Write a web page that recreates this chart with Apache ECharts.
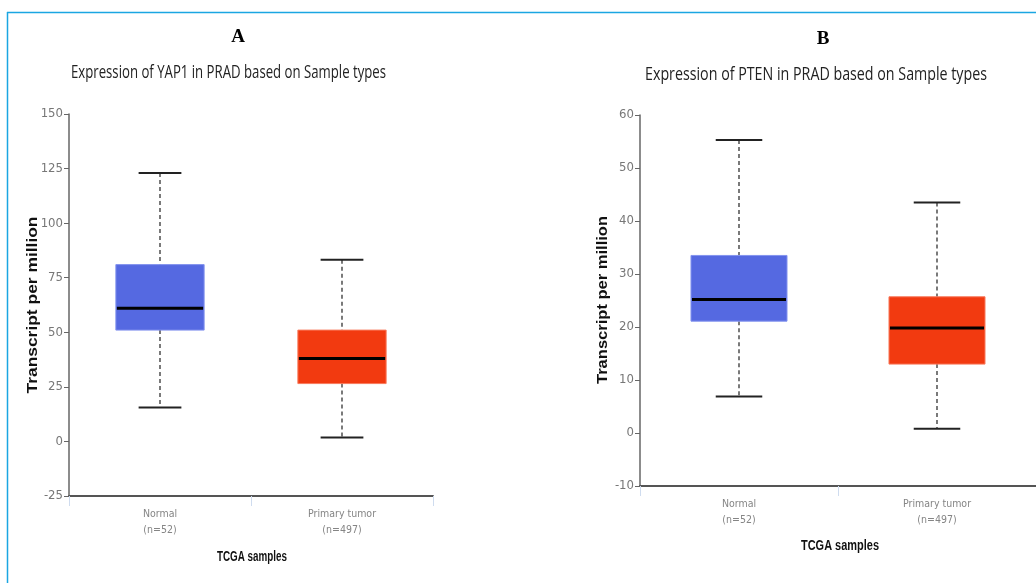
<!DOCTYPE html>
<html><head><meta charset="utf-8">
<script src="https://cdn.jsdelivr.net/npm/echarts@6/dist/echarts.min.js"></script>
<style>html,body{margin:0;padding:0;background:#fff}#c{width:1036px;height:583px}</style>
</head><body><div id="c"></div>
<script>
// ---- data ----
const categories = ['Normal\n(n=52)', 'Primary tumor\n(n=497)'];
// [low whisker, Q1, median, Q3, high whisker]
const yap1Normal = [15.6, 51, 61, 81, 123];
const yap1Tumor  = [1.8, 26.5, 38, 51, 83.2];
const ptenNormal = [6.9, 21.1, 25.2, 33.5, 55.3];
const ptenTumor  = [0.8, 13, 19.8, 25.7, 43.5];
const yap1Ticks = {min: -25, max: 150, interval: 25};
const ptenTicks = {min: -10, max: 60, interval: 10};
const panelTitles = ['Expression of YAP1 in PRAD based on Sample types', 'Expression of PTEN in PRAD based on Sample types'];
const panelLetters = ['A', 'B'];
const yName = 'Transcript per million';
const xName = 'TCGA samples';
const boxColors = ['#5569e1', '#f23a10'];
const boxStroke = ['#8393ee', '#f87a5c'];

const narrow = "'Liberation Sans Narrow','DejaVu Sans Condensed',sans-serif";

const mctx = document.createElement('canvas').getContext('2d');
function textW(text, font) { mctx.font = font; return mctx.measureText(text).width; }

function renderBox(params, api) {
  const ci = api.value(0);
  const low = api.value(1), q1 = api.value(2), med = api.value(3), q3 = api.value(4), high = api.value(5);
  const band = api.size([1, 0])[0];
  const bw = band * 0.485, cw = band * 0.235;
  const pLow = api.coord([ci, low]), pQ1 = api.coord([ci, q1]), pMed = api.coord([ci, med]),
        pQ3 = api.coord([ci, q3]), pHigh = api.coord([ci, high]);
  const x = pMed[0];
  const wStyle = {stroke: '#333', lineWidth: 1.3, lineDash: [4, 3]};
  const cStyle = {stroke: '#222', lineWidth: 2};
  return {
    type: 'group',
    children: [
      {type: 'line', shape: {x1: x, y1: pHigh[1], x2: x, y2: pQ3[1]}, style: wStyle},
      {type: 'line', shape: {x1: x, y1: pQ1[1], x2: x, y2: pLow[1]}, style: wStyle},
      {type: 'line', shape: {x1: x - cw / 2, y1: pHigh[1], x2: x + cw / 2, y2: pHigh[1]}, style: cStyle},
      {type: 'line', shape: {x1: x - cw / 2, y1: pLow[1], x2: x + cw / 2, y2: pLow[1]}, style: cStyle},
      {type: 'rect', shape: {x: x - bw / 2, y: pQ3[1], width: bw, height: pQ1[1] - pQ3[1]},
        style: {fill: boxColors[ci], stroke: boxStroke[ci], lineWidth: 1}},
      {type: 'line', shape: {x1: x - bw / 2 + 1, y1: pMed[1], x2: x + bw / 2 - 1, y2: pMed[1]},
        style: {stroke: '#000', lineWidth: 3}}
    ]
  };
}

function toRows(a, b) {
  return [[0].concat(a), [1].concat(b)];
}

function xAxisDef(gi) {
  return {
    type: 'category', gridIndex: gi, data: categories,
    axisLine: {onZero: false, lineStyle: {color: '#555', width: 2}},
    axisTick: {show: true, length: 10, lineStyle: {color: '#cfdcef', width: 1}},
    axisLabel: {color: '#858585', fontFamily: narrow, fontSize: 10.5, lineHeight: 16, margin: 10}
  };
}
function yAxisDef(gi, t) {
  return {
    type: 'value', gridIndex: gi, min: t.min, max: t.max, interval: t.interval,
    splitLine: {show: false},
    axisLine: {show: true, lineStyle: {color: '#666', width: 1.5}},
    axisTick: {show: true, length: 5, lineStyle: {color: '#666'}},
    axisLabel: {color: '#777', fontFamily: narrow, fontSize: 13, margin: 6}
  };
}

// stretched text (reference fonts are condensed / stretched)
function fitText(text, font, cx, cy, targetW, rotate, color) {
  const w = textW(text, font);
  return {
    type: 'text', x: cx, y: cy, rotation: rotate || 0, scaleX: targetW / w,
    style: {text: text, font: font, fill: color || '#111', textAlign: 'center', textVerticalAlign: 'middle'}
  };
}

const titleFont = "18.5px 'Open Sans',sans-serif";
const boldFont = "bold 14.5px 'Liberation Sans',Arial,sans-serif";
const nameFont = "bold 14px 'Liberation Sans',Arial,sans-serif";

const chart = echarts.init(document.getElementById('c'), null, {renderer: 'canvas'});
chart.setOption({
  animation: false,
  backgroundColor: '#fff',
  grid: [
    {left: 69, top: 114, width: 364, height: 382},
    {left: 640, top: 115, width: 396, height: 371}
  ],
  xAxis: [xAxisDef(0), xAxisDef(1)],
  yAxis: [yAxisDef(0, yap1Ticks), yAxisDef(1, ptenTicks)],
  series: [
    {type: 'custom', xAxisIndex: 0, yAxisIndex: 0, renderItem: renderBox, data: toRows(yap1Normal, yap1Tumor), encode: {x: 0, y: [1, 2, 3, 4, 5]}},
    {type: 'custom', xAxisIndex: 1, yAxisIndex: 1, renderItem: renderBox, data: toRows(ptenNormal, ptenTumor), encode: {x: 0, y: [1, 2, 3, 4, 5]}}
  ],
  graphic: [
    {type: 'line', shape: {x1: 7, y1: 12.5, x2: 1036, y2: 12.5}, style: {stroke: '#1ba6e2', lineWidth: 1.5}},
    {type: 'line', shape: {x1: 7.5, y1: 12, x2: 7.5, y2: 583}, style: {stroke: '#1ba6e2', lineWidth: 1.5}},
    {type: 'text', x: 238, y: 37, style: {text: panelLetters[0], font: "bold 19px 'Liberation Serif',serif", fill: '#000', textAlign: 'center', textVerticalAlign: 'middle'}},
    {type: 'text', x: 823, y: 39, style: {text: panelLetters[1], font: "bold 19px 'Liberation Serif',serif", fill: '#000', textAlign: 'center', textVerticalAlign: 'middle'}},
    fitText(panelTitles[0], titleFont, 228.5, 73, 315, 0, '#222'),
    fitText(panelTitles[1], titleFont, 816, 75, 342, 0, '#222'),
    fitText(xName, boldFont, 252, 557, 70),
    fitText(xName, boldFont, 840, 546, 78),
    fitText(yName, nameFont, 33, 305, 177, Math.PI / 2),
    fitText(yName, nameFont, 603, 300, 168, Math.PI / 2)
  ]
});
</script>
</body></html>
